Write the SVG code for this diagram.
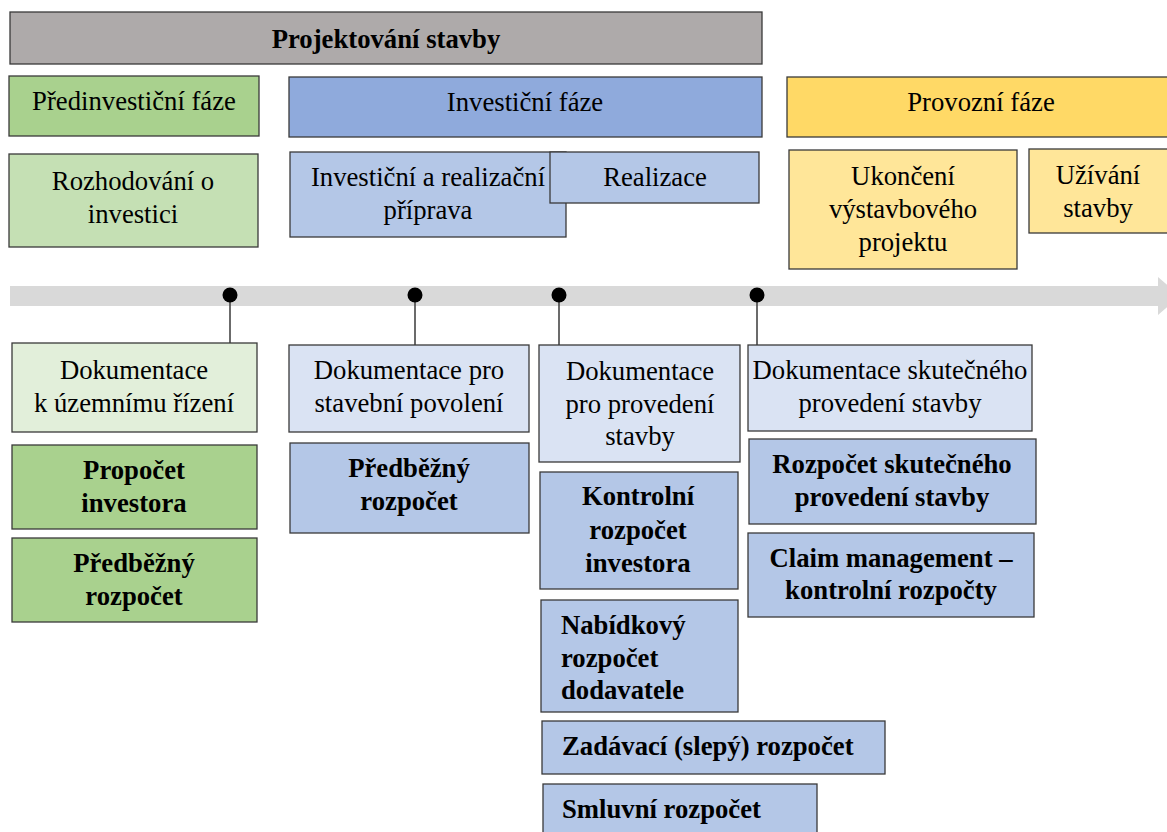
<svg xmlns="http://www.w3.org/2000/svg" width="1167" height="832" viewBox="0 0 1167 832">
  <style>
    .box { stroke: #3a3a3a; stroke-width: 1.3; }
    .gray { fill: #AEAAAA; }
    .g1 { fill: #A9D18E; }
    .g2 { fill: #C5E0B4; }
    .g3 { fill: #E2EFDA; }
    .b1 { fill: #8FAADC; }
    .b2 { fill: #B4C7E7; }
    .b3 { fill: #DAE3F3; }
    .y1 { fill: #FFD966; }
    .y2 { fill: #FFE699; }
    .t { font-family: 'Liberation Serif', 'DejaVu Serif', serif; font-size: 26.7px; fill: #000; }
    .t text { transform: translateY(1px); }
    .c { text-anchor: middle; }
    .bold { font-weight: bold; }
    .stem { stroke: #3a3a3a; stroke-width: 1.5; fill: none; }
    .dot { fill: #000; }
  </style>

  <!-- timeline -->
  <g id="timeline">
    <path d="M10 286 H1158 V277 L1180 296 L1158 315 V306 H10 Z" fill="#D9D9D9"/>
  </g>

  <g class="t" font-family="Liberation Serif, DejaVu Serif, serif">
  <!-- phase headers -->
  <g id="projektovani">
    <rect class="box gray" x="10" y="12" width="752" height="52"/>
    <text class="c bold" x="386" y="47">Projektování stavby</text>
  </g>
  <g id="predinvesticni">
    <rect class="box g1" x="9" y="76" width="250" height="60"/>
    <text class="c" x="134" y="109">Předinvestiční fáze</text>
  </g>
  <g id="investicni">
    <rect class="box b1" x="289" y="77" width="473" height="60"/>
    <text class="c" x="525" y="110">Investiční fáze</text>
  </g>
  <g id="provozni">
    <rect class="box y1" x="787" y="77" width="390" height="60"/>
    <text class="c" x="981" y="110">Provozní fáze</text>
  </g>

  <!-- sub-phases -->
  <g id="rozhodovani">
    <rect class="box g2" x="9" y="154" width="249" height="93"/>
    <text class="c" x="133" y="189">Rozhodování o</text>
    <text class="c" x="133" y="222">investici</text>
  </g>
  <g id="priprava">
    <rect class="box b2" x="290" y="152" width="276" height="85"/>
    <text class="c" x="428" y="185">Investiční a realizační</text>
    <text class="c" x="428" y="218">příprava</text>
  </g>
  <g id="realizace">
    <rect class="box b2" x="550" y="152" width="209" height="51"/>
    <text class="c" x="655" y="185">Realizace</text>
  </g>
  <g id="ukonceni">
    <rect class="box y2" x="789" y="150" width="228" height="119"/>
    <text class="c" x="903" y="184">Ukončení</text>
    <text class="c" x="903" y="217">výstavbového</text>
    <text class="c" x="903" y="250">projektu</text>
  </g>
  <g id="uzivani">
    <rect class="box y2" x="1029" y="149" width="148" height="84"/>
    <text class="c" x="1098" y="183">Užívání</text>
    <text class="c" x="1098" y="216">stavby</text>
  </g>
  </g>

  <!-- milestone connectors -->
  <g id="connectors">
    <line class="stem" x1="230" y1="295" x2="230" y2="343"/>
    <line class="stem" x1="415" y1="295" x2="415" y2="345"/>
    <line class="stem" x1="559" y1="295" x2="559" y2="345"/>
    <line class="stem" x1="757" y1="295" x2="757" y2="345"/>
    <circle class="dot" cx="230" cy="295" r="7.5"/>
    <circle class="dot" cx="415" cy="295" r="7.5"/>
    <circle class="dot" cx="559" cy="295" r="7.5"/>
    <circle class="dot" cx="757" cy="295" r="7.5"/>
  </g>

  <g class="t" font-family="Liberation Serif, DejaVu Serif, serif">
  <!-- documentation -->
  <g id="dur">
    <rect class="box g3" x="12" y="343" width="245" height="89"/>
    <text class="c" x="134" y="378">Dokumentace</text>
    <text class="c" x="134" y="411">k územnímu řízení</text>
  </g>
  <g id="dsp">
    <rect class="box b3" x="289" y="345" width="240" height="87"/>
    <text class="c" x="409" y="378">Dokumentace pro</text>
    <text class="c" x="409" y="411">stavební povolení</text>
  </g>
  <g id="dps">
    <rect class="box b3" x="539" y="345" width="201" height="117"/>
    <text class="c" x="640" y="379">Dokumentace</text>
    <text class="c" x="640" y="412">pro provedení</text>
    <text class="c" x="640" y="444">stavby</text>
  </g>
  <g id="dsps">
    <rect class="box b3" x="748" y="345" width="284" height="86"/>
    <text class="c" x="890" y="378">Dokumentace skutečného</text>
    <text class="c" x="890" y="411">provedení stavby</text>
  </g>

  <!-- budgets -->
  <g id="propocet">
    <rect class="box g1" x="12" y="445" width="245" height="84"/>
    <text class="c bold" x="134" y="478">Propočet</text>
    <text class="c bold" x="134" y="511">investora</text>
  </g>
  <g id="predbezny-1">
    <rect class="box g1" x="12" y="538" width="245" height="84"/>
    <text class="c bold" x="134" y="571">Předběžný</text>
    <text class="c bold" x="134" y="604">rozpočet</text>
  </g>
  <g id="predbezny-2">
    <rect class="box b2" x="290" y="443" width="239" height="90"/>
    <text class="c bold" x="409" y="476">Předběžný</text>
    <text class="c bold" x="409" y="509">rozpočet</text>
  </g>
  <g id="kontrolni">
    <rect class="box b2" x="540" y="472" width="198" height="117"/>
    <text class="c bold" x="638" y="504">Kontrolní</text>
    <text class="c bold" x="638" y="538">rozpočet</text>
    <text class="c bold" x="638" y="571">investora</text>
  </g>
  <g id="nabidkovy">
    <rect class="box b2" x="541" y="600" width="197" height="112"/>
    <text class="bold" x="561" y="633">Nabídkový</text>
    <text class="bold" x="561" y="666">rozpočet</text>
    <text class="bold" x="561" y="698">dodavatele</text>
  </g>
  <g id="zadavaci">
    <rect class="box b2" x="542" y="721" width="343" height="53"/>
    <text class="bold" x="562" y="754">Zadávací (slepý) rozpočet</text>
  </g>
  <g id="smluvni">
    <rect class="box b2" x="543" y="784" width="274" height="60"/>
    <text class="bold" x="562" y="817">Smluvní rozpočet</text>
  </g>
  <g id="skutecny">
    <rect class="box b2" x="749" y="439" width="287" height="85"/>
    <text class="c bold" x="892" y="472">Rozpočet skutečného</text>
    <text class="c bold" x="892" y="505">provedení stavby</text>
  </g>
  <g id="claim">
    <rect class="box b2" x="748" y="533" width="286" height="84"/>
    <text class="c bold" x="891" y="566">Claim management –</text>
    <text class="c bold" x="891" y="598">kontrolní rozpočty</text>
  </g>
  </g>
</svg>
